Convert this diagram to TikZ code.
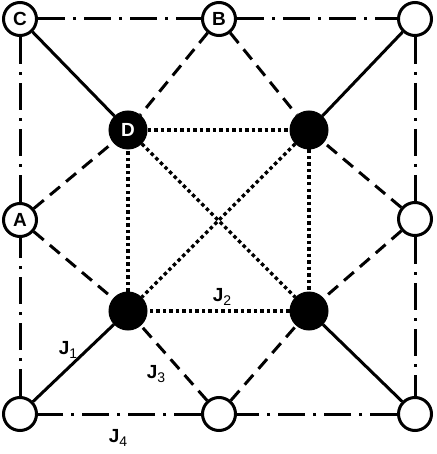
\documentclass[tikz,border=0pt]{standalone}
\usepackage{fontspec}
\setmainfont{Liberation Sans}
\begin{document}
\begin{tikzpicture}[x=1pt,y=-1pt,
  opensite/.style={circle,draw=black,fill=white,line width=3pt,minimum size=33pt,inner sep=0pt,font=\fontsize{19}{19}\selectfont\bfseries},
  fullsite/.style={circle,draw=black,fill=black,line width=1pt,minimum size=38pt,inner sep=0pt,text=white,font=\fontsize{19}{19}\selectfont\bfseries},
  jone/.style={line width=3pt},
  jtwo/.style={line width=3.5pt,dash pattern=on 3.5pt off 3pt},
  jthree/.style={line width=3pt,dash pattern=on 13pt off 8pt},
  jfour/.style={line width=3pt,dash pattern=on 27pt off 8pt on 3pt off 8pt},
  jlab/.style={inner sep=0pt,font=\fontsize{19}{19}\selectfont\bfseries}
]
\useasboundingbox (0,0) rectangle (436,454);
% open sites
\node[opensite] (C) at (20,19) {C};
\node[opensite] (B) at (219,19) {B};
\node[opensite] (TR) at (415,19) {};
\node[opensite] (A) at (20,220) {A};
\node[opensite] (MR) at (415,219) {};
\node[opensite] (BL) at (20,414) {};
\node[opensite] (BM) at (219,414) {};
\node[opensite] (BR) at (415,414) {};
% filled sites
\node[fullsite] (D) at (128,130) {D};
\node[fullsite] (E) at (309,130) {};
\node[fullsite] (F) at (128,311) {};
\node[fullsite] (G) at (309,311) {};
% J1 solid
\draw[jone] (C) -- (D);
\draw[jone] (TR) -- (E);
\draw[jone] (BL) -- (F);
\draw[jone] (BR) -- (G);
% J2 dotted
\draw[jtwo] (D) -- (E);
\draw[jtwo] (E) -- (G);
\draw[jtwo] (G) -- (F);
\draw[jtwo] (F) -- (D);
\draw[jtwo] (D) -- (G);
\draw[jtwo] (E) -- (F);
% J3 dashed
\draw[jthree] (B) -- (D);
\draw[jthree] (B) -- (E);
\draw[jthree] (A) -- (D);
\draw[jthree] (A) -- (F);
\draw[jthree] (BM) -- (F);
\draw[jthree] (BM) -- (G);
\draw[jthree] (MR) -- (E);
\draw[jthree] (MR) -- (G);
% J4 dash-dot
\draw[jfour] (C) -- (B);
\draw[jfour] (B) -- (TR);
\draw[jfour] (TR) -- (MR);
\draw[jfour] (MR) -- (BR);
\draw[jfour] (BR) -- (BM);
\draw[jfour] (BM) -- (BL);
\draw[jfour] (BL) -- (A);
\draw[jfour] (A) -- (C);
% labels
\node[jlab] (L1) at (68,350) {J\raisebox{-0.45ex}{\fontsize{14}{14}\selectfont\mdseries 1}};
\node[jlab] (L2) at (222,297) {J\raisebox{-0.45ex}{\fontsize{14}{14}\selectfont\mdseries 2}};
\node[jlab] (L3) at (156,374) {J\raisebox{-0.45ex}{\fontsize{14}{14}\selectfont\mdseries 3}};
\node[jlab] (L4) at (118,438) {J\raisebox{-0.45ex}{\fontsize{14}{14}\selectfont\mdseries 4}};
\end{tikzpicture}
\end{document}
